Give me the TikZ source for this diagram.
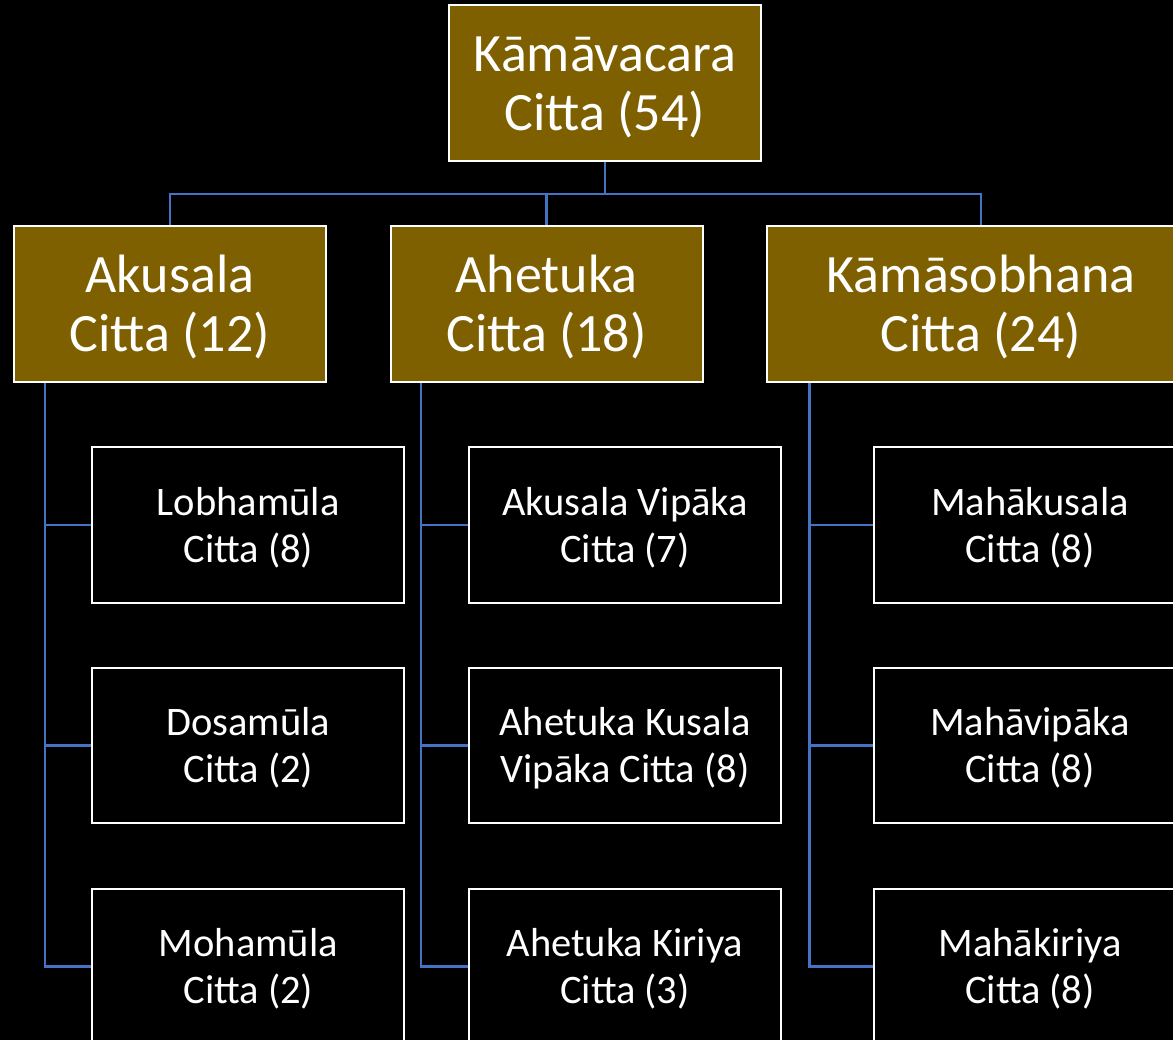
\documentclass[tikz,border=0pt]{standalone}
\usepackage{fontspec}
\setmainfont{Carlito}
\definecolor{boxbrown}{HTML}{7F6000}
\definecolor{lineblue}{HTML}{4472C4}
\newcommand{\topstrut}{\rule{0pt}{0.81em}}
\tikzset{
  headbox/.style={draw=white, line width=2pt, fill=boxbrown, text=white, align=center,
    inner sep=0pt, minimum width=312pt, minimum height=156pt,
    font=\fontsize{54}{59}\selectfont},
  subbox/.style={draw=white, line width=2pt, fill=black, text=white, align=center,
    inner sep=0pt, minimum width=312pt, minimum height=155pt,
    font=\fontsize{40.5}{47}\selectfont},
  conn/.style={draw=lineblue, line width=2.2pt}
}
\begin{document}
\begin{tikzpicture}[x=1pt,y=-1pt]
\fill[black] (0,0) rectangle (1173,1040);
\useasboundingbox (0,0) rectangle (1173,1040);

\node[headbox] (top) at (605,83) {\topstrut Kāmāvacara\\Citta (54)};
\node[headbox] (A) at (170,303.75) {\topstrut Akusala\\Citta (12)};
\node[headbox] (B) at (546.5,303.75) {\topstrut Ahetuka\\Citta (18)};
\node[headbox, minimum width=428pt] (C) at (981,303.75) {\topstrut Kāmāsobhana\\Citta (24)};

\node[subbox] (a1) at (248.3,525) {\topstrut Lobhamūla\\Citta (8)};
\node[subbox] (a2) at (248.3,745.5) {\topstrut Dosamūla\\Citta (2)};
\node[subbox] (a3) at (248.3,966.5) {\topstrut Mohamūla\\Citta (2)};

\node[subbox] (b1) at (625,525) {\topstrut Akusala Vipāka\\Citta (7)};
\node[subbox] (b2) at (625,745.5) {\topstrut Ahetuka Kusala\\Vipāka Citta (8)};
\node[subbox] (b3) at (625,966.5) {\topstrut Ahetuka Kiriya\\Citta (3)};

\node[subbox] (c1) at (1030,525) {\topstrut Mahākusala\\Citta (8)};
\node[subbox] (c2) at (1030,745.5) {\topstrut Mahāvipāka\\Citta (8)};
\node[subbox] (c3) at (1030,966.5) {\topstrut Mahākiriya\\Citta (8)};

\draw[conn] (top.south) -- ++(0,32) -| (A.north);
\draw[conn] (top.south) -- ++(0,32) -| (B.north);
\draw[conn] (top.south) -- ++(0,32) -| (C.north);

\coordinate (ta) at ([xshift=32pt]A.south west);
\coordinate (tb) at ([xshift=31.5pt]B.south west);
\coordinate (tc) at ([xshift=43.5pt]C.south west);
\foreach \k in {1,2,3}{
  \draw[conn] (ta) |- (a\k.west);
  \draw[conn] (tb) |- (b\k.west);
  \draw[conn] (tc) |- (c\k.west);
}
\end{tikzpicture}
\end{document}
